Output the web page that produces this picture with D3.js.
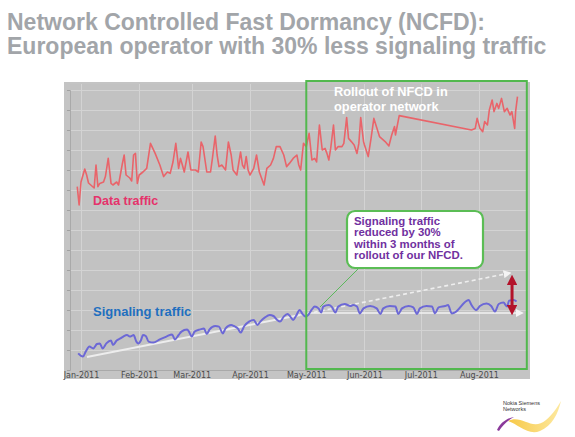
<!DOCTYPE html>
<html><head><meta charset="utf-8">
<script src="https://cdn.jsdelivr.net/npm/d3@7"></script>
<style>
html,body{margin:0;padding:0;background:#fff;}
svg{display:block;font-family:"Liberation Sans",Arial,sans-serif;}
</style></head>
<body>
<svg id="chart" width="575" height="437"></svg>
<script>
// ---- data (day offset from 1 Jan 2011, value in arbitrary traffic units) ----
const monthLabels = ["Jan-2011","Feb-2011","Mar-2011","Apr-2011","May-2011","Jun-2011","Jul-2011","Aug-2011"];
const dataDays = [-2,-1,0,2,3,4,7,8,9,10,12,13,14.5,16,17,19,20,22,23,24,26,27,28,29,30,31,33,35,37,39.5,42,44,46,47.5,49,50.5,52,53,54,55,56,57,58.5,61,62.5,64,65,67,69,70,71.5,72.5,73.5,75,77,78.5,80,81,83,85,86,87,88,89,90,92,93.5,95,97.5,99,101,102.5,104,106,108,109.5,111,113,115,116,117,118.5,120,121.5,123,124.5,125.5,127,128.5,130,131,132,133,134.5,135.5,137,139,140,141.5,142.5,144,145.5,147,148,149,150.5,151,153,154.5,156,159,162,164,165.5,167,167.5,169.5,208,210,211,212.5,214,215,216.5,217.5,219,220,221.5,222.5,224,225.5,227,228.5,229.5,231,231.5,232.5];
const dataTraffic = [91.7,82.5,94,100.5,97.5,93.5,91,102.5,91.7,93.3,94,96.7,105.8,93.3,92.5,94,92.5,103,107.5,97.5,96,94.5,107.5,108.3,93.3,97.5,99,100.8,113.3,108.3,102.5,96.7,99,98.3,104,113.3,100.8,105.8,102.5,99,104,109,100,100,99,114,111.7,99,99,105.8,117,107.5,101.7,102.5,100,114,107.5,100,97.5,109,102.5,100.8,106.7,100,97.5,100.8,107.5,99,92.5,100.8,102.5,105.8,111.7,111.7,107.5,101.7,103.3,105.8,107.5,102.5,100,113.3,111.7,118.3,105,105.8,104,122.5,110,110.8,108.3,105,110.8,122.5,110,111.7,111.7,113.3,126.2,115.8,114.2,112.5,108.3,113.3,126.2,114.2,112.5,106.7,115.8,125.8,116.7,114.2,112,117.5,121.7,117.5,127.2,120,120.8,125.8,120.8,119.2,124.2,122.5,130,135,129.2,133.3,130.8,135.8,129.2,130.8,127.5,129.2,120.8,129.2,136.7];
const sigDays = [-1.5,1,2.5,4.5,6.5,8.5,10,11.5,13.5,16,17,19,21,22.5,24.5,26,27,28,29.5,30.5,32,33,34.5,36,38.5,42,45.5,48.5,50,52,53.5,56.5,57.5,59,60.5,63.5,65.5,67,68.5,71.5,73.5,75.5,77,80,81.5,83.5,85,87,89.5,92,94,95.5,98,100.5,102.5,104.5,106,108,110,111.5,113,114.5,116.5,118,119.5,121,123,124.5,126.5,128,129,132,133.5,135.5,137,140.5,143.5,145,147,148.5,150.5,154,157.5,159.5,161,164.5,167.5,169,171,174.5,177,179,180.5,184,187,188.5,190.5,194,195.5,197.5,199,206.5,208,210.5,212.5,216,218.5,220.5,222.5,225,227,228,230.5,232];
const signalingTraffic = [8.3,6.7,9.2,11.7,10.8,13,13.3,10.8,13.3,14.7,12.5,14.7,15.8,16.7,17.5,16.7,17,17.5,14.2,13.3,15,17.5,17,14.2,13.7,15.3,16.7,17.8,15.3,17.5,19.2,20.3,19.2,16.7,19.2,20.3,20.8,18,20.3,22,21.7,18.3,20.8,22.5,22,20.8,18.7,22,24.2,25,22.5,24.2,26.3,27.5,27,25,24.2,26.7,28,26.7,25,27,30,28,26.7,27.5,30.3,31.7,30.8,28.7,31.7,32.5,31.7,28.7,31.7,33,32,32.5,31.7,28.3,30.8,32,30.8,28,30.8,32,31.7,28,30.8,32,31.3,28,30.8,32,31.7,28.3,31.3,32,32.5,28.3,28.7,35,32.5,30,32,33.3,32,29.2,33,33.7,31.7,34.7,35,34.2];
// annotation lines [day, value]
const trendSolid = [[3.2,6.5],[116.7,27.5]];
const trendDashed = [[116.7,27.5],[228.5,48.5]];
const plateau = [[121,28.5],[235,28.5]];
const reduction = [[229.6,45.5],[229.6,29.5]];
const rolloutStart = 120; // 1 May 2011
const rolloutEnd = 238;
const yTicks = d3.range(0,150,10);

// ---- drawing ----
const svg = d3.select("#chart");
const day0 = Date.UTC(2011,0,1);
const toDate = d => new Date(day0 + d*864e5);
const x = d3.scaleUtc().domain([new Date(day0), new Date(Date.UTC(2011,7,1))]).range([81,479]);
const y = d3.scaleLinear().domain([0,140]).range([370,90]);
const plot = {left:70, right:528, top:84, bottom:370};

// title
const title = svg.append("g").attr("fill","#a2a5a9").attr("font-weight","bold").attr("font-size",23);
title.append("text").attr("x",7).attr("y",30).text("Network Controlled Fast Dormancy (NCFD):");
title.append("text").attr("x",7).attr("y",54).text("European operator with 30% less signaling traffic");

// panel
svg.append("rect").attr("x",64).attr("y",82).attr("width",466).attr("height",297).attr("fill","#c4c4c4");
svg.append("rect").attr("x",plot.left).attr("y",plot.top).attr("width",plot.right-plot.left).attr("height",plot.bottom-plot.top).attr("fill","#c2c2c2");

// grid
const grid = svg.append("g").attr("stroke","#d3d3d3").attr("stroke-width",1);
grid.selectAll("line.h").data(yTicks.filter(t=>t>0)).join("line")
  .attr("x1",plot.left).attr("x2",plot.right).attr("y1",d=>y(d)+0.5).attr("y2",d=>y(d)+0.5);
const monthDates = monthLabels.map((m,i)=>new Date(Date.UTC(2011,i,1)));
grid.selectAll("line.v").data(monthDates).join("line")
  .attr("x1",d=>Math.round(x(d))+0.5).attr("x2",d=>Math.round(x(d))+0.5).attr("y1",plot.top).attr("y2",plot.bottom);

// axes
const yAxis = svg.append("g").attr("transform",`translate(${plot.left},0)`)
  .call(d3.axisLeft(y).tickValues(yTicks).tickSize(3).tickFormat(""));
yAxis.select(".domain").attr("stroke","#a9a9a9");
yAxis.selectAll(".tick line").attr("stroke","#a0a0a0");
const xAxis = svg.append("g").attr("transform",`translate(0,${plot.bottom})`)
  .call(d3.axisBottom(x).tickValues(monthDates).tickSize(0).tickPadding(2).tickFormat((d,i)=>monthLabels[i]));
xAxis.select(".domain").attr("stroke","#a9a9a9");
xAxis.selectAll("text").attr("font-family","DejaVu Sans").attr("font-size",8).attr("fill","#4a4a4a");

// lines
const line = d3.line().x(d=>x(toDate(d[0]))).y(d=>y(d[1]));
svg.append("path").datum(dataDays.map((d,i)=>[d,dataTraffic[i]]))
  .attr("d",line).attr("fill","none").attr("stroke","#e9646a").attr("stroke-width",1.6).attr("stroke-linejoin","round");

// white trend lines
const defs = svg.append("defs");
defs.append("marker").attr("id","wa").attr("viewBox","0 0 10 10").attr("refX",8).attr("refY",5)
  .attr("markerWidth",5).attr("markerHeight",5).attr("orient","auto")
  .append("path").attr("d","M0,0L10,5L0,10z").attr("fill","#f4f4f4");
defs.append("marker").attr("id","ra").attr("viewBox","0 0 10 10").attr("refX",6).attr("refY",5)
  .attr("markerWidth",3.6).attr("markerHeight",3.6).attr("orient","auto-start-reverse")
  .append("path").attr("d","M0,0L10,5L0,10z").attr("fill","#b3122a");

svg.append("path").datum(trendSolid).attr("d",line).attr("stroke","#ededed").attr("stroke-width",2).attr("fill","none");
svg.append("path").datum(trendDashed).attr("d",line).attr("stroke","#eeeeee").attr("stroke-width",1.6)
  .attr("stroke-dasharray","4,3").attr("fill","none").attr("marker-end","url(#wa)");
svg.append("path").datum(plateau).attr("d",line).attr("stroke","#f2f2f2").attr("stroke-width",1.6)
  .attr("fill","none").attr("marker-end","url(#wa)");

svg.append("path").datum(sigDays.map((d,i)=>[d,signalingTraffic[i]]))
  .attr("d",line.curve(d3.curveMonotoneX)).attr("fill","none").attr("stroke","#6c68d6").attr("stroke-width",2).attr("stroke-linejoin","round");
line.curve(d3.curveLinear);

svg.append("path").datum(reduction).attr("d",line).attr("stroke","#b3122a").attr("stroke-width",3)
  .attr("fill","none").attr("marker-start","url(#ra)").attr("marker-end","url(#ra)");

// rollout box
svg.append("rect").attr("x",x(toDate(rolloutStart))).attr("y",81)
  .attr("width",x(toDate(rolloutEnd))-x(toDate(rolloutStart))-1).attr("height",plot.bottom-81-1)
  .attr("fill","none").attr("stroke","#52b84e").attr("stroke-width",2);

// texts
const t1 = svg.append("g").attr("font-weight","bold").attr("fill","#ffffff").attr("font-size",12.8);
t1.append("text").attr("x",334).attr("y",96).text("Rollout of NFCD in");
t1.append("text").attr("x",334).attr("y",111).text("operator network");
svg.append("text").attr("x",93).attr("y",205).attr("font-weight","bold").attr("font-size",12.5).attr("fill","#e5336b").text("Data traffic");
svg.append("text").attr("x",93).attr("y",316).attr("font-weight","bold").attr("font-size",13).attr("fill","#1f6fbf").text("Signaling traffic");

// callout
svg.append("line").attr("x1",360).attr("y1",267).attr("x2",320).attr("y2",307).attr("stroke","#5cb85c").attr("stroke-width",1);
svg.append("rect").attr("x",347).attr("y",211).attr("width",136).attr("height",57).attr("rx",8)
  .attr("fill","#ffffff").attr("stroke","#5bbd55").attr("stroke-width",2.2);
const ct = svg.append("g").attr("font-weight","bold").attr("fill","#7030a0").attr("font-size",11.4);
["Signaling traffic","reduced by 30%","within 3 months of","rollout of our NFCD."].forEach((s,i)=>{
  ct.append("text").attr("x",354).attr("y",225+i*11.3).text(s);
});

// logo
const logo = svg.append("g");
const grad = defs.append("linearGradient").attr("id","lg").attr("x1","0").attr("x2","1");
grad.append("stop").attr("offset","0").attr("stop-color","#f7c948");
grad.append("stop").attr("offset","1").attr("stop-color","#fde9a0");
logo.append("path").attr("d","M508,421 C522,414 532,432 546,420 C553,414 558,406 561,401 C558,414 552,426 540,431 C528,436 518,424 508,421Z").attr("fill","url(#lg)");
logo.append("path").attr("d","M497,430 C500,423 507,418 514,417 C508,420 502,426 499,431Z").attr("fill","#8a3a9a");
logo.append("text").attr("x",503).attr("y",405).attr("font-size",5.5).attr("fill","#333").text("Nokia Siemens");
logo.append("text").attr("x",503).attr("y",411).attr("font-size",5.5).attr("fill","#333").text("Networks");
</script>
</body></html>
